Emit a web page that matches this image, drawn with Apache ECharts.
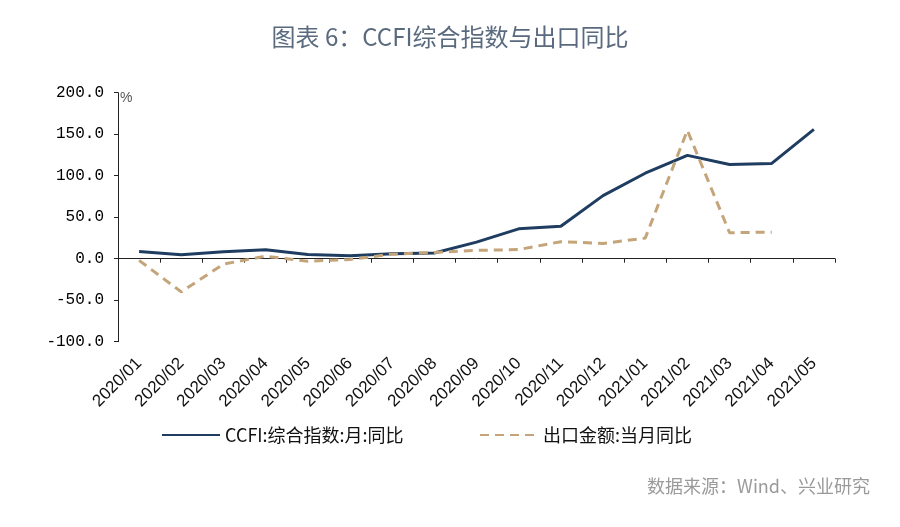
<!DOCTYPE html>
<html>
<head>
<meta charset="utf-8">
<script src="https://cdn.jsdelivr.net/npm/echarts@6/dist/echarts.min.js"></script>
<style>
html,body{margin:0;padding:0;background:#fff;}
#chart{width:900px;height:527px;}
</style>
</head>
<body>
<div id="chart"></div>
<script>
const categories = ['2020/01','2020/02','2020/03','2020/04','2020/05','2020/06','2020/07','2020/08','2020/09','2020/10','2020/11','2020/12','2021/01','2021/02','2021/03','2021/04','2021/05'];
const ccfiYoY = [8.8, 4.8, 8.5, 10.8, 5.0, 3.6, 6.0, 6.8, 20.0, 36.0, 39.0, 76.0, 103.0, 124.5, 113.6, 114.8, 155.8];
const exportYoY = [-2.0, -40.0, -6.5, 3.0, -3.0, -1.0, 5.5, 7.6, 10.0, 11.0, 20.5, 18.4, 24.8, 154.6, 31.3, 32.0, null];
const seriesNames = ['CCFI:综合指数:月:同比', '出口金额:当月同比'];
const yTicks = {min: -100, max: 200, interval: 50};
const titleText = '图表 6：CCFI综合指数与出口同比';
const sourceText = '数据来源：Wind、兴业研究';

const chart = echarts.init(document.getElementById('chart'), null, {renderer: 'canvas'});
chart.setOption({
  backgroundColor: '#fff',
  animation: false,
  title: [
    {text: titleText, left: 'center', top: 20,
     textStyle: {fontFamily: 'Noto Sans CJK SC', fontSize: 24, fontWeight: 'normal', color: '#5a6a7e'}},
    {text: sourceText, right: 25, top: 472,
     textStyle: {fontFamily: 'Noto Sans CJK SC', fontSize: 18, fontWeight: 'normal', color: '#9a9a9a'}}
  ],
  grid: {left: 118, right: 65, top: 92.7, bottom: 185.3, containLabel: false},
  legend: [
    {data: [seriesNames[0]], left: 156, top: 421, itemWidth: 58, itemHeight: 14,
     itemStyle: {opacity: 0},
     textStyle: {fontFamily: 'Noto Sans CJK SC', fontSize: 18, color: '#111'}},
    {data: [seriesNames[1]], left: 474, top: 421, itemWidth: 58, itemHeight: 14,
     itemStyle: {opacity: 0},
     textStyle: {fontFamily: 'Noto Sans CJK SC', fontSize: 18, color: '#111'}}
  ],
  graphic: [
    {type: 'text', left: 120, top: 91,
     style: {text: '%', fontFamily: 'Liberation Sans', fontSize: 14, fill: '#555'}}
  ],
  xAxis: {
    type: 'category',
    data: categories,
    boundaryGap: true,
    axisLine: {onZero: true, lineStyle: {color: '#222', width: 1}},
    axisTick: {show: true, length: 4, alignWithLabel: false, lineStyle: {color: '#222'}},
    axisLabel: {interval: 0, rotate: 45, margin: 19, fontFamily: 'Liberation Sans', fontSize: 17, color: '#111'},
    splitLine: {show: false}
  },
  yAxis: {
    type: 'value',
    min: yTicks.min, max: yTicks.max, interval: yTicks.interval,
    axisLine: {show: true, lineStyle: {color: '#222', width: 1}},
    axisTick: {show: true, length: 4, lineStyle: {color: '#222'}},
    axisLabel: {margin: 14, fontFamily: 'Liberation Mono', fontSize: 16, color: '#000',
      formatter: v => v.toFixed(1)},
    splitLine: {show: false}
  },
  series: [
    {name: seriesNames[0], type: 'line', data: ccfiYoY, symbol: 'none',
     lineStyle: {color: '#1f3d60', width: 3}, itemStyle: {color: '#1f3d60'}, z: 2},
    {name: seriesNames[1], type: 'line', data: exportYoY, symbol: 'none', connectNulls: false,
     lineStyle: {color: '#c4a57a', width: 3, type: [9, 6]}, itemStyle: {color: '#c4a57a'}, z: 3}
  ]
});
</script>
</body>
</html>
